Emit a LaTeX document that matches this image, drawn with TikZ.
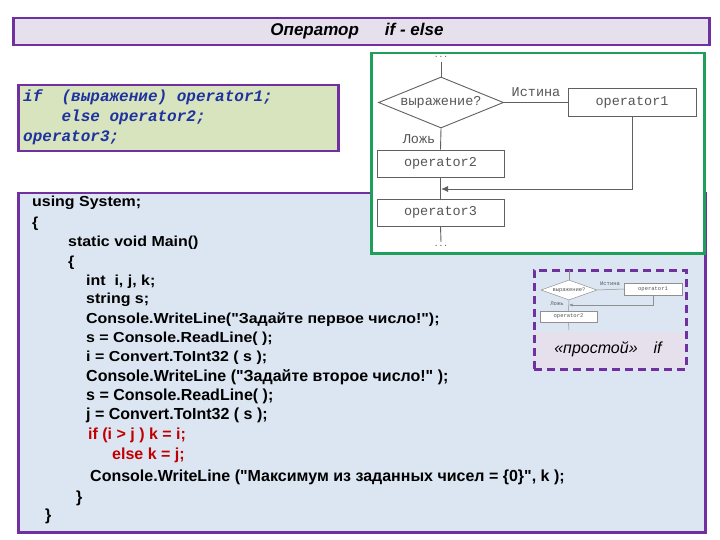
\documentclass[tikz,border=0pt]{standalone}
\usepackage{fontspec}
\setmainfont{Liberation Sans}
\newfontfamily\flowfont{Liberation Mono}
\newfontfamily\codeA[FakeStretch=1.1]{Liberation Sans}
\newfontfamily\codeB[FakeStretch=1.0]{Liberation Sans}
\usetikzlibrary{arrows.meta,shapes.geometric}
\definecolor{purp}{RGB}{112,48,160}
\definecolor{titlefill}{RGB}{230,224,236}
\definecolor{defgreen}{RGB}{215,228,189}
\definecolor{codefill}{RGB}{220,230,242}
\definecolor{fgreen}{RGB}{30,160,90}
\definecolor{defblue}{RGB}{30,50,160}
\definecolor{codered}{RGB}{192,0,0}
\definecolor{flowgray}{RGB}{85,85,85}
\definecolor{flowline}{RGB}{96,96,96}
\tikzset{
  panel/.style={draw=purp, line width=2.5pt, inner sep=0, anchor=north west},
  fbox/.style={draw=flowline, line width=0.9pt, fill=white, inner sep=0, text=flowgray, font=\flowfont\fontsize{13.5}{15}\selectfont},
  fline/.style={draw=flowline, line width=0.9pt},
  flabel/.style={text=flowgray, font=\flowfont\fontsize{13.5}{15}\selectfont, inner sep=0},
  mbox/.style={draw=flowline!70, line width=0.5pt, fill=white, inner sep=0, text=flowgray, font=\flowfont\fontsize{5.5}{6}\selectfont},
  mline/.style={draw=flowline!70, line width=0.5pt},
  mlabel/.style={text=flowgray, font=\flowfont\fontsize{5.5}{6}\selectfont, inner sep=0},
  codeline/.style={anchor=base west, inner sep=0, font=\codeA\bfseries\fontsize{14.5}{17}\selectfont},
  codelineb/.style={anchor=base west, inner sep=0, font=\codeB\bfseries\fontsize{16}{18}\selectfont},
  defline/.style={anchor=base west, inner sep=0, text=defblue, font=\flowfont\bfseries\itshape\fontsize{16}{18}\selectfont},
}
\begin{document}
\begin{tikzpicture}[x=1pt,y=-1pt]
\useasboundingbox (0,0) rectangle (720,540);
% title
\node[panel, fill=titlefill, minimum width=696pt, minimum height=27pt] (title) at (12,17) {};
\node[inner sep=0, font=\bfseries\itshape\fontsize{17}{19}\selectfont] (titletext) at (357,31) {Оператор\hspace{26pt}if - else};
% definition box
\node[panel, fill=defgreen, minimum width=320pt, minimum height=66pt] (def) at (17,84) {};
\node[defline] (d1) at (23,102) {if\ \ (выражение) operator1;};
\node[defline] (d2) at (61.4,122) {else operator2;};
\node[defline] (d3) at (23,142) {operator3;};
% code box
\node[panel, fill=codefill, minimum width=687pt, minimum height=339pt] (code) at (17,192) {};
\node[codeline] (c1) at (32,207) {using System;};
\node[codeline] (c2) at (32,227) {\{};
\node[codeline] (c3) at (68,247) {static void Main()};
\node[codeline] (c4) at (68,266) {\{};
\node[codeline] (c5) at (86,285) {int\ \ i, j, k;};
\node[codeline] (c6) at (86,303) {string s;};
\node[codeline] (c7) at (86,323) {Console.WriteLine("Задайте первое число!");};
\node[codeline] (c8) at (86,342) {s = Console.ReadLine( );};
\node[codeline] (c9) at (86,361) {i = Convert.ToInt32 ( s );};
\node[codelineb] (c10) at (86,381) {Console.WriteLine ("Задайте второе число!" );};
\node[codelineb] (c11) at (86,400) {s = Console.ReadLine( );};
\node[codelineb] (c12) at (86,419) {j = Convert.ToInt32 ( s );};
\node[codelineb, text=codered] (c13) at (88,439) {if (i > j ) k = i;};
\node[codelineb, text=codered] (c14) at (112,459) {else k = j;};
\node[codelineb] (c15) at (90,481) {Console.WriteLine ("Максимум из заданных чисел = \{0\}", k );};
\node[codelineb] (c16) at (76,502) {\}};
\node[codelineb] (c17) at (45,520) {\}};
% flowchart box
\node[panel, draw=fgreen, fill=white, minimum width=333pt, minimum height=200pt] (flow) at (370,52) {};
\node[flabel, font=\flowfont\fontsize{8}{8}\selectfont] (tdots) at (441,57) {...};
\coordinate (ftop) at (441,62);
\node[fbox, shape=diamond, aspect=2.45, minimum width=125pt, minimum height=51pt] (dia) at (441,102.5) {выражение?};
\node[fbox, minimum width=128pt, minimum height=28pt] (op1) at (632,102.5) {operator1};
\node[fbox, minimum width=127pt, minimum height=27pt] (op2) at (440.5,163.5) {operator2};
\node[fbox, minimum width=127pt, minimum height=27pt] (op3) at (440.5,212.5) {operator3};
\coordinate (join) at (441,189);
\coordinate (fbot) at (441,242);
\node[flabel, font=\flowfont\fontsize{8}{8}\selectfont] (bdots) at (441,246) {...};
\draw[fline] (ftop) -- (dia.north);
\draw[fline] (dia.east) -- (op1.west);
\draw[fline] (dia.south) -- (op2.north);
\draw[fline] (op2.south) -- (op3.north);
\draw[fline, -{Latex[length=7pt,width=6pt]}] (op1.south) |- (join);
\draw[fline] (op3.south) -- (fbot);
\node[flabel] (ist) at (536,92) {Истина};
\node[flabel] (lozh) at (419,139) {Ложь};
% simple if box
\fill[titlefill] (533,332) rectangle (685,368);
\node[panel, draw=purp, dash pattern=on 8pt off 5pt, minimum width=152pt, minimum height=99pt] (simple) at (533,269) {};
\node[inner sep=0, font=\itshape\fontsize{16}{19}\selectfont] (simpletext) at (608,349) {«простой»\hspace{16pt}if};
\coordinate (mtop) at (569,270);
\node[mbox, shape=diamond, aspect=2.8, minimum width=56pt, minimum height=20pt] (mdia) at (569,290) {выражение?};
\node[mbox, minimum width=58pt, minimum height=12pt] (mop1) at (653,289) {operator1};
\node[mbox, minimum width=57pt, minimum height=11pt] (mop2) at (568.5,316.5) {operator2};
\coordinate (mjoin) at (569,305);
\coordinate (mbot) at (569,330);
\draw[mline] (mtop) -- (mdia.north);
\draw[mline] (mdia.east) -- (mop1.west);
\draw[mline] (mdia.south) -- (mop2.north);
\draw[mline, -{Latex[length=3.5pt,width=3pt]}] (mop1.south) |- (mjoin);
\draw[mline] (mop2.south) -- (mbot);
\node[mlabel] (mist) at (610,284) {Истина};
\node[mlabel] (mlozh) at (557,304) {Ложь};
\end{tikzpicture}
\end{document}
